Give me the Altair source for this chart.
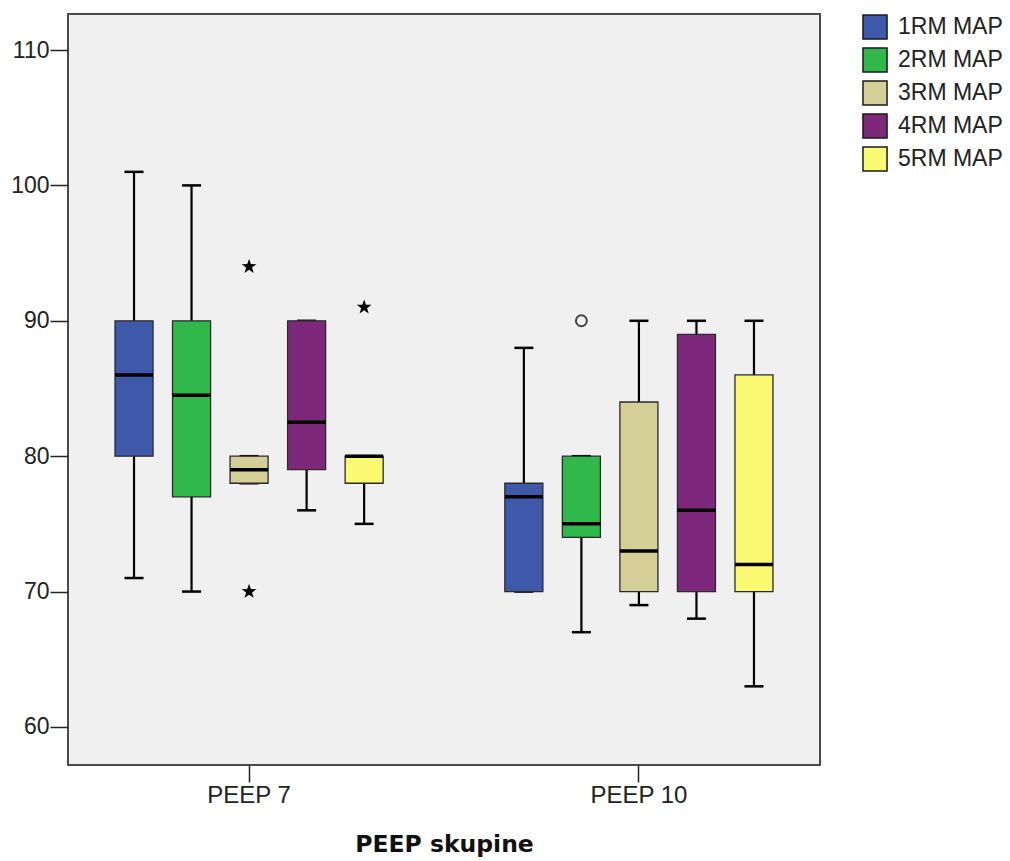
import altair as alt
import pandas as pd

# ---- data ----
series_names = ["1RM MAP", "2RM MAP", "3RM MAP", "4RM MAP", "5RM MAP"]
group_names = ["PEEP 7", "PEEP 10"]
series_colors = ["#3e58aa", "#30b84a", "#d4cf97", "#7e287b", "#fbf872"]

box_group = ["PEEP 7"] * 5 + ["PEEP 10"] * 5
box_series = series_names * 2
whisker_low = [71, 70, 78, 76, 75, 70, 67, 69, 68, 63]
q1 = [80, 77, 78, 79, 78, 70, 74, 70, 70, 70]
median = [86, 84.5, 79, 82.5, 80, 77, 75, 73, 76, 72]
q3 = [90, 90, 80, 90, 80, 78, 80, 84, 89, 86]
whisker_high = [101, 100, 80, 90, 80, 88, 80, 90, 90, 90]

# extreme values (stars)
star_group = ["PEEP 7", "PEEP 7", "PEEP 7"]
star_series = ["3RM MAP", "3RM MAP", "5RM MAP"]
star_value = [94, 70, 91]
# outliers (circles)
circ_group = ["PEEP 10"]
circ_series = ["2RM MAP"]
circ_value = [90]

y_ticks = [60, 70, 80, 90, 100, 110]

boxes = pd.DataFrame({
    "group": box_group, "series": box_series,
    "lo": whisker_low, "q1": q1, "med": median, "q3": q3, "hi": whisker_high,
})
stars_df = pd.DataFrame({"group": star_group, "series": star_series, "value": star_value})
circ_df = pd.DataFrame({"group": circ_group, "series": circ_series, "value": circ_value})

STAR_PATH = ("M0,-1L0.235,-0.324L0.951,-0.309L0.38,0.124L0.588,0.809L0,0.4"
             "L-0.588,0.809L-0.38,0.124L-0.951,-0.309L-0.235,-0.324Z")

PW, PH = 752, 751

x_axis = alt.Axis(title="PEEP skupine", orient="bottom", labelAngle=0, labelFontSize=24,
                  labelFont="Liberation Sans", labelColor="#222", tickSize=17,
                  tickColor="#222", tickWidth=1.5, labelPadding=1, domain=False,
                  titleFont="DejaVu Sans", titleFontSize=23.5, titleFontWeight="bold",
                  titleColor="#111", titlePadding=25)
x_scale = alt.Scale(type="band", domain=group_names, paddingInner=0.262, paddingOuter=0.0955)
x_enc = alt.X("group:N", scale=x_scale, axis=x_axis)
xo_enc = alt.XOffset("series:N",
                     scale=alt.Scale(type="band", domain=series_names,
                                     paddingInner=0.339, paddingOuter=0.17))
y_scale = alt.Scale(domain=[57.19, 112.66], nice=False, zero=False)
y_axis = alt.Axis(title=None, values=y_ticks, labelFontSize=23, labelFont="Liberation Sans",
                  labelColor="#222", tickSize=18, tickColor="#222", tickWidth=1.5,
                  labelPadding=1, domain=False, grid=False)


def yq(field):
    return alt.Y(field, scale=y_scale, axis=y_axis)


base = alt.Chart(boxes)

whisk = base.mark_rule(color="black", strokeWidth=2.2).encode(
    x=x_enc, xOffset=xo_enc, y=yq("lo:Q"), y2="hi:Q")

cap_lo = base.mark_tick(color="black", size=19, thickness=2.5, opacity=1).encode(
    x=x_enc, xOffset=xo_enc, y=yq("lo:Q"))
cap_hi = base.mark_tick(color="black", size=19, thickness=2.5, opacity=1).encode(
    x=x_enc, xOffset=xo_enc, y=yq("hi:Q"))

box = base.mark_bar(stroke="#2a2a2a", strokeWidth=1.3).encode(
    x=x_enc, xOffset=xo_enc,
    y=yq("q1:Q"), y2="q3:Q",
    color=alt.Color("series:N",
                    scale=alt.Scale(domain=series_names, range=series_colors),
                    legend=alt.Legend(title=None, orient="right", offset=42,
                                      symbolType="square", symbolSize=580,
                                      symbolStrokeColor="#1a1a1a", symbolStrokeWidth=1.5,
                                      labelFontSize=23, labelOffset=10,
                                      labelFont="Liberation Sans", labelColor="#222",
                                      rowPadding=1)))

med = base.mark_tick(color="black", size=38, thickness=3.5, opacity=1).encode(
    x=x_enc, xOffset=xo_enc, y=yq("med:Q"))

stars = alt.Chart(stars_df).mark_point(
    shape=STAR_PATH, filled=True, color="black", size=240, opacity=1).encode(
    x=x_enc, xOffset=xo_enc, y=yq("value:Q"))

circles = alt.Chart(circ_df).mark_point(
    shape="circle", filled=False, color="#444", size=120, strokeWidth=2, opacity=1).encode(
    x=x_enc, xOffset=xo_enc, y=yq("value:Q"))

chart = alt.layer(whisk, cap_lo, cap_hi, box, med, stars, circles).properties(
    width=PW, height=PH,
    autosize=alt.AutoSizeParams(type="none"),
    padding={"left": 60, "top": 6, "right": 182, "bottom": 95},
    background="white",
).configure_view(fill="#f0f0f0", stroke="#4a4a4a", strokeWidth=2)

chart.save("out.html", embed_options={"renderer": "svg", "actions": False})
